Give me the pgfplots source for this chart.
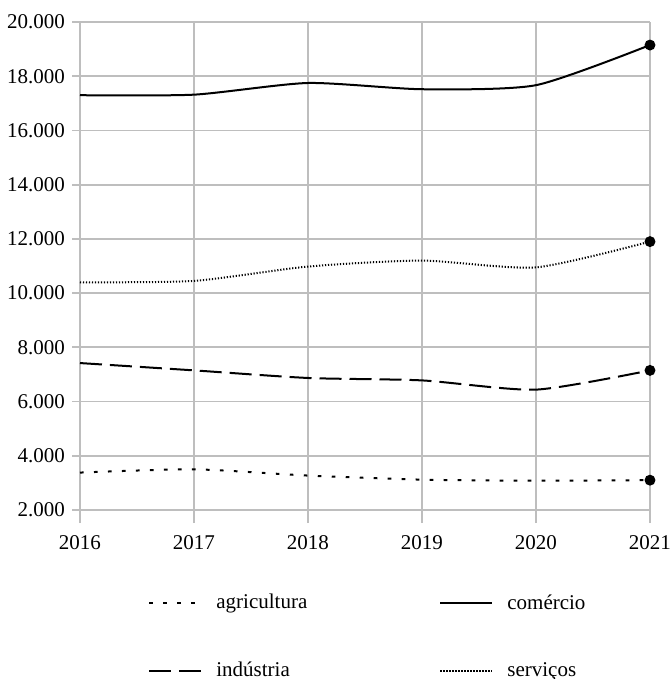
\documentclass[border=0pt]{standalone}
\usepackage{fontspec}
\setmainfont{Liberation Serif}
\usepackage{pgfplots}
\pgfplotsset{compat=1.18}
\usetikzlibrary{calc}

\definecolor{gridgray}{RGB}{190,190,190}

\begin{document}
\begin{tikzpicture}
\begin{axis}[
  scale only axis,
  width=285pt, height=244pt,
  xmin=2016, xmax=2021,
  ymin=2000, ymax=20000,
  xtick={2016,2017,2018,2019,2020,2021},
  ytick={2000,4000,...,20000},
  scaled ticks=false,
  grid=major,
  grid style={gridgray, line width=0.9pt},
  axis line style={gridgray, line width=0.9pt},
  axis lines*=left,
  tick style={gridgray, line width=0.9pt},
  tick align=outside,
  major tick length=4pt,
  xtick style={/pgfplots/major tick length=6.5pt},
  clip=false,
  yticklabel={\rmfamily\pgfmathprintnumber[assume math mode=true, fixed, 1000 sep={.}]{\tick}},
  xticklabel={\rmfamily\pgfmathprintnumber[assume math mode=true, fixed, 1000 sep={}]{\tick}},
  xticklabel style={yshift=-5pt},
  ticklabel style={font=\fontsize{10.5}{12}\selectfont, black},
  legend columns=2,
  legend cell align=left,
  legend style={
    at={(31pt,-38pt)}, anchor=north west,
    draw=none, fill=none,
    font=\fontsize{10.5}{12}\selectfont,
    /tikz/every odd column/.append style={column sep=5pt},
    /tikz/every even column/.append style={column sep=64pt},
    row sep=21pt,
  },
  legend image code/.code={\draw[#1] (0pt,0pt) -- (26pt,0pt);},
  every axis plot/.append style={black, line width=1pt, smooth, tension=0.4},
]
\addplot[dash pattern=on 1.8pt off 5.2pt, mark=*, mark indices={6},
  mark options={solid, fill=black, scale=1.1}]
  coordinates {(2016,3380)(2017,3500)(2018,3270)(2019,3120)(2020,3080)(2021,3100)};
\addlegendentry{agricultura}
\addplot[solid, mark=*, mark indices={6}, mark options={fill=black, scale=1.1}]
  coordinates {(2016,17300)(2017,17320)(2018,17750)(2019,17520)(2020,17670)(2021,19150)};
\addlegendentry{comércio}
\addplot[dash pattern=on 11pt off 4pt, mark=*, mark indices={6},
  mark options={solid, fill=black, scale=1.1}]
  coordinates {(2016,7420)(2017,7150)(2018,6870)(2019,6780)(2020,6440)(2021,7150)};
\addlegendentry{indústria}
\addplot[dash pattern=on 0.6pt off 0.9pt, mark=*, mark indices={6},
  mark options={solid, fill=black, scale=1.1}]
  coordinates {(2016,10400)(2017,10450)(2018,10980)(2019,11200)(2020,10950)(2021,11900)};
\addlegendentry{serviços}
\end{axis}
\pgfresetboundingbox
\path[use as bounding box] ($(current axis.south west)+(-40pt,-84.5pt)$)
  rectangle ($(current axis.north east)+(10.5pt,11pt)$);
\end{tikzpicture}
\end{document}
